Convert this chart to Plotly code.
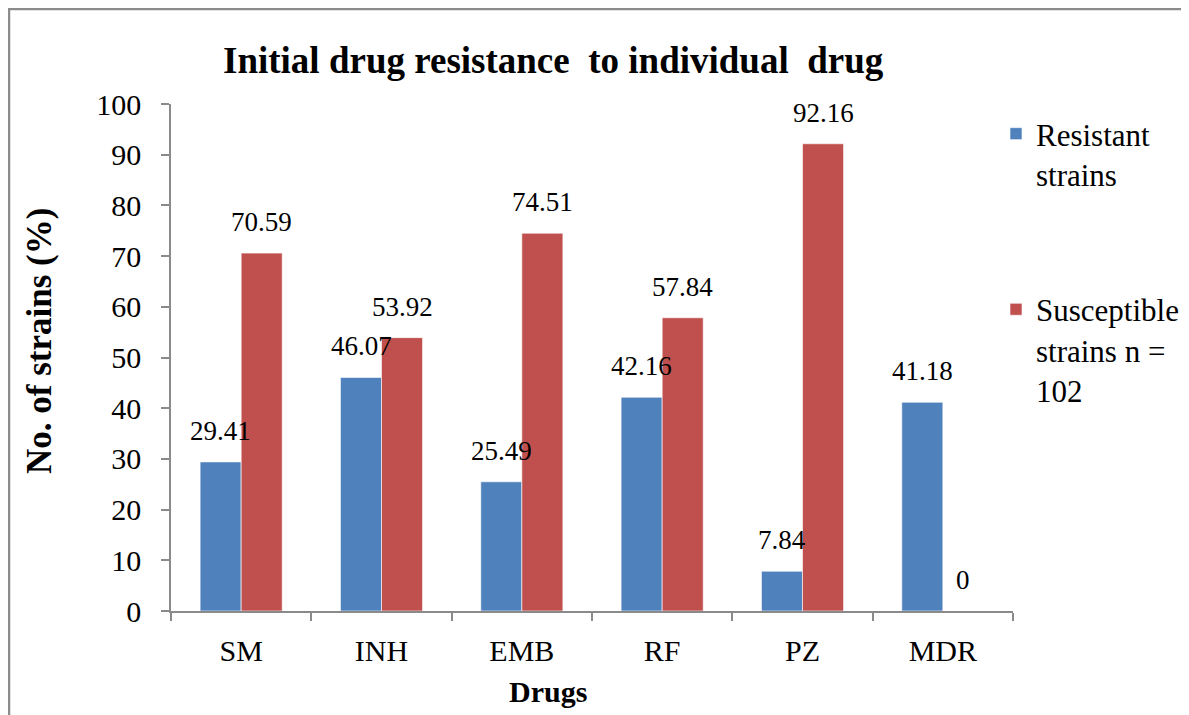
import plotly.graph_objects as go

drugs = ["SM", "INH", "EMB", "RF", "PZ", "MDR"]
resistant = [29.41, 46.07, 25.49, 42.16, 7.84, 41.18]
susceptible = [70.59, 53.92, 74.51, 57.84, 92.16, 0]
series_names = ["Resistant<br>strains", "Susceptible<br>strains n =<br>102"]
y_ticks = [0, 10, 20, 30, 40, 50, 60, 70, 80, 90, 100]

BLUE = "#4F81BD"
RED = "#C0504D"
FONT = "Liberation Serif"
AXIS_GRAY = "#8a8a8a"

OFF = 8  # page body margin
W, H = 1189 - OFF, 715 - OFF
PX0, PX1, PY0, PY1 = 171, 1013, 104, 611
ML, MT = PX0 - OFF, PY0 - OFF
MR = W - (PX1 - OFF)
MB = H - (PY1 - OFF)
PW = PX1 - PX0
PH = PY1 - PY0

def px_to_paper_x(px):
    return (px - PX0) / PW

def px_to_paper_y(py):
    return (PY1 - py) / PH

fig = go.Figure()
fig.add_trace(go.Bar(x=drugs, y=resistant, name=series_names[0], marker_color=BLUE,
                     marker_line=dict(color="rgba(255,255,255,0.6)", width=1),
                     legendgroup="a"))
fig.add_trace(go.Bar(x=drugs, y=susceptible, name=series_names[1], marker_color=RED,
                     marker_line=dict(color="rgba(255,255,255,0.6)", width=1),
                     legendgroup="b"))

bar_half = 20.5
for vals, shift in ((resistant, -bar_half), (susceptible, bar_half)):
    for d, v in zip(drugs, vals):
        fig.add_annotation(
            x=d, y=v, xref="x", yref="y", text=f"{v:g}",
            showarrow=False, xshift=shift, yshift=31, yanchor="middle",
            font=dict(family=FONT, size=27, color="#000000"))

fig.add_annotation(
    text="<b>Initial drug resistance  to individual  drug</b>", xref="paper", yref="paper",
    x=px_to_paper_x(553), y=px_to_paper_y(60), showarrow=False,
    xanchor="center", yanchor="middle", font=dict(family=FONT, size=37, color="#000000"))
fig.add_annotation(
    text="<b>No. of strains (%)</b>", xref="paper", yref="paper",
    x=px_to_paper_x(39), y=px_to_paper_y(341), showarrow=False, textangle=-90,
    xanchor="center", yanchor="middle", font=dict(family=FONT, size=35, color="#000000"))
fig.add_annotation(
    text="<b>Drugs</b>", xref="paper", yref="paper",
    x=px_to_paper_x(548), y=px_to_paper_y(691), showarrow=False,
    xanchor="center", yanchor="middle", font=dict(family=FONT, size=30, color="#000000"))

fig.add_shape(type="rect", xref="paper", yref="paper",
              x0=px_to_paper_x(9), x1=px_to_paper_x(1185),
              y0=px_to_paper_y(740), y1=px_to_paper_y(9),
              line=dict(color="#8c8c8c", width=2.5), fillcolor="rgba(0,0,0,0)",
              layer="above")

fig.update_layout(
    width=W, height=H,
    margin=dict(l=ML, r=MR, t=MT, b=MB, autoexpand=False),
    paper_bgcolor="white", plot_bgcolor="white",
    barmode="group", bargap=0.415, bargroupgap=0,
    showlegend=True,
    legend=dict(x=px_to_paper_x(996), y=px_to_paper_y(107), xanchor="left", yanchor="top",
                font=dict(family=FONT, size=31, color="#000000"),
                itemwidth=30, valign="top", tracegroupgap=92,
                bgcolor="rgba(0,0,0,0)"),
)
fig.update_xaxes(showline=True, linecolor=AXIS_GRAY, linewidth=1.5, ticks="outside",
                 tickson="boundaries", ticklen=8, tickcolor=AXIS_GRAY, tickwidth=1.5,
                 showgrid=False, tickfont=dict(family=FONT, size=30, color="#000000"),
                 ticklabelstandoff=12)
fig.update_yaxes(range=[0, 100], tickvals=y_ticks, showline=True, linecolor=AXIS_GRAY,
                 linewidth=1.5, ticks="outside", ticklen=8, tickcolor=AXIS_GRAY, tickwidth=1.5,
                 showgrid=False, zeroline=False,
                 tickfont=dict(family=FONT, size=30, color="#000000"),
                 ticklabelstandoff=14)

fig.write_html("out.html")
